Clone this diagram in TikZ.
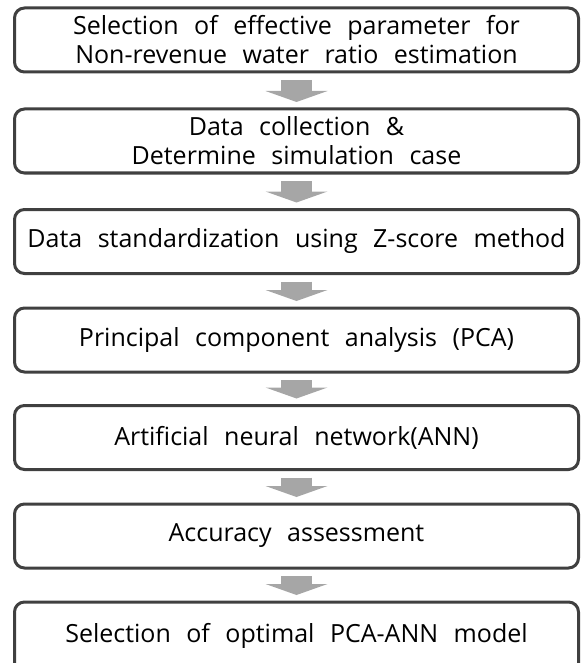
\documentclass[tikz,border=0pt]{standalone}
\usepackage{fontspec}
\setmainfont{Open Sans}
\usetikzlibrary{arrows.meta}
\definecolor{boxline}{RGB}{64,64,64}
\definecolor{arrowfill}{RGB}{166,166,166}
\newcommand{\stepfont}{\fontsize{25}{29}\selectfont\spaceskip=15.5pt plus 2pt\relax}
\tikzset{
  stepbox/.style={draw=boxline, line width=3pt, rounded corners=10pt,
    minimum width=564pt, minimum height=64pt, inner sep=2pt, align=center,
    font=\stepfont},
  downarrow/.style={draw=arrowfill, line width=31pt, shorten <=6.5pt, shorten >=5.5pt,
    -{Triangle[width=62pt,length=11pt,line width=0pt]}}
}
\begin{document}
\begin{tikzpicture}[x=1pt,y=1pt]
    \path[use as bounding box, clip] (0,0) rectangle (582,-663);
    % Steps
    \foreach \i/\y/\val in {
        1/40/{Selection of effective parameter for\\Non-revenue water ratio estimation},
        2/141/{Data collection \&\\Determine simulation case},
        3/241.5/{Data standardization using Z-score method},
        4/340/{Principal component analysis (PCA)},
        5/437.5/{Artificial neural network(ANN)},
        6/536/{Accuracy assessment}} {
        \node[stepbox] (b\i) at (296.5, -\y) {\val};
    }
    % Last step, runs off the page
    \node[stepbox, minimum height=90pt, text depth=28pt] (b7) at (296.5, -647)
        {Selection of optimal PCA-ANN model};
    % Arrows
    \foreach \i [evaluate=\i as \j using int(\i+1)] in {1,...,6} {
        \draw[downarrow] (b\i.south) -- (b\j.north);
    }
\end{tikzpicture}
\end{document}
